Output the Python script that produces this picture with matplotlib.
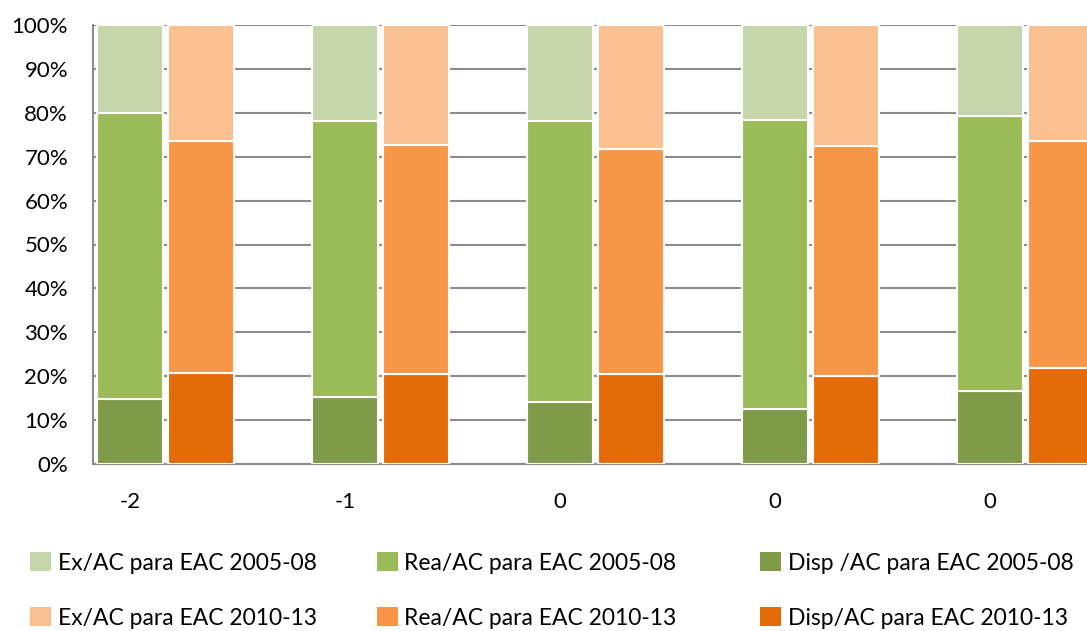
import matplotlib
matplotlib.use("Agg")
import matplotlib.pyplot as plt
from matplotlib.patches import Patch
import numpy as np

categories = ["-2", "-1", "0", "0", "0"]
# percentages (segments) for EAC 2005-08
disp_0508 = [14.8, 15.3, 14.1, 12.5, 16.7]
rea_0508 = [65.2, 62.8, 64.1, 65.9, 62.6]
ex_0508 = [20.0, 21.9, 21.8, 21.6, 20.7]
# percentages (segments) for EAC 2010-13
disp_1013 = [20.7, 20.5, 20.6, 20.1, 21.9]
rea_1013 = [52.9, 52.2, 51.2, 52.3, 51.6]
ex_1013 = [26.4, 27.3, 28.2, 27.6, 26.5]

labels = ["Ex/AC para EAC 2005-08", "Rea/AC para EAC 2005-08", "Disp /AC para EAC 2005-08",
          "Ex/AC para EAC 2010-13", "Rea/AC para EAC 2010-13", "Disp/AC para EAC 2010-13"]
colors = ["#C6D6AB", "#9BBB59", "#7F9A48", "#FAC090", "#F79646", "#E36C09"]

plt.rcParams['font.family'] = ['Lato', 'DejaVu Sans']

W, H = 1087, 631
fig = plt.figure(figsize=(W / 100, H / 100), dpi=100)
ax = fig.add_axes([93 / W, 1 - 464 / H, (W - 93) / W, (464 - 25) / H])

x = np.arange(len(categories))
w = 0.307
off = 0.33

def stack(xpos, segs, cols):
    bottom = np.zeros(len(xpos))
    for s, c in zip(segs, cols):
        s = np.array(s)
        ax.bar(xpos, s, w, bottom=bottom, color=c, edgecolor="white", linewidth=1.5, zorder=3)
        bottom += s

stack(x, [disp_0508, rea_0508, ex_0508], [colors[2], colors[1], colors[0]])
stack(x + off, [disp_1013, rea_1013, ex_1013], [colors[5], colors[4], colors[3]])

ax.set_xlim(-0.172, 4.45)
ax.set_ylim(0, 100)
ax.set_yticks(np.arange(0, 101, 10))
ax.set_yticklabels([f"{v}%" for v in range(0, 101, 10)], fontsize=16)
ax.set_xticks(x)
ax.set_xticklabels(categories, fontsize=16)
ax.tick_params(axis='both', length=0)
ax.tick_params(axis='x', pad=20)
ax.tick_params(axis='y', pad=18)
ax.yaxis.grid(True, color="#8C8C8C", linewidth=1.5, zorder=0)
ax.set_axisbelow(True)
for sp in ["top", "right"]:
    ax.spines[sp].set_visible(False)
for sp in ["left", "bottom"]:
    ax.spines[sp].set_color("#8C8C8C")
    ax.spines[sp].set_linewidth(1.5)

# legend entries: patch left x px, row center y px
col_x = [30, 377, 760]
row_y = [563, 618]
for i in range(6):
    r, c = divmod(i, 3)
    fig.legend([Patch(facecolor=colors[i], edgecolor="none")], [labels[i]],
               loc="center left", bbox_to_anchor=(col_x[c] / W, 1 - row_y[r] / H),
               frameon=False, fontsize=16.5, handlelength=0.9, handleheight=0.9,
               handletextpad=0.3, borderpad=0, borderaxespad=0)

fig.savefig("out.png", dpi=100)
